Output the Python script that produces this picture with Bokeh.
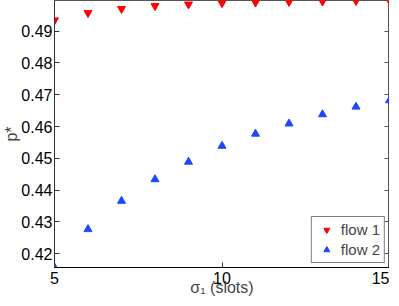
from bokeh.plotting import figure
from bokeh.models import Range1d, LinearAxis, FixedTicker, Legend, LegendItem
from bokeh.embed import file_html
from bokeh.resources import INLINE

slots = [5, 6, 7, 8, 9, 10, 11, 12, 13, 14, 15]
flow1 = [0.4934, 0.4957, 0.4970, 0.4979, 0.4984, 0.4988, 0.4990, 0.4992, 0.4993, 0.4995, 0.4996]
flow2 = [0.4157, 0.4277, 0.4366, 0.4434, 0.4489, 0.4539, 0.4577, 0.4609, 0.4638, 0.4662, 0.4682]
x_ticks = [5, 10, 15]
y_ticks = [0.42, 0.43, 0.44, 0.45, 0.46, 0.47, 0.48, 0.49]

FONT = "Liberation Sans"

p = figure(width=389, height=298, output_backend="svg", toolbar_location=None,
           x_range=Range1d(5, 15), y_range=Range1d(0.4157, 0.4996),
           min_border_left=0, min_border_right=0, min_border_top=0, min_border_bottom=0)
p.grid.visible = False
p.outline_line_color = "#555555"
p.background_fill_color = "white"

r1 = p.scatter(slots, flow1, marker="inverted_triangle", size=8, color="#ff0000")
r2 = p.scatter(slots, flow2, marker="triangle", size=8, color="#1f45ff")

for ax in (p.xaxis[0], p.yaxis[0]):
    ax.major_tick_in = 5
    ax.major_tick_out = 0
    ax.minor_tick_line_color = None
    ax.major_label_text_font = FONT
    ax.major_label_text_font_size = "16px"
    ax.major_label_text_color = "black"
    ax.axis_label_text_font = FONT
    ax.axis_label_text_font_size = "16px"
    ax.axis_label_text_font_style = "normal"
    ax.axis_line_color = "#333333"
    ax.major_tick_line_color = "#333333"

p.xaxis[0].ticker = FixedTicker(ticks=x_ticks)
p.yaxis[0].ticker = FixedTicker(ticks=y_ticks)
p.yaxis[0].formatter.use_scientific = False
p.xaxis[0].axis_label = "σ₁ (slots)"
p.xaxis[0].axis_label_standoff = -8
p.xaxis[0].major_label_standoff = 4
p.xaxis[0].axis_line_color = "black"
p.yaxis[0].axis_label = "p*"
p.yaxis[0].axis_label_standoff = -2
p.yaxis[0].major_label_standoff = 2

right = LinearAxis(ticker=FixedTicker(ticks=y_ticks), major_label_text_font_size="0px",
                   major_tick_in=5, major_tick_out=0, minor_tick_line_color=None,
                   major_label_standoff=0, axis_label_standoff=0,
                   major_label_overrides={t: "" for t in y_ticks},
                   axis_line_color="#555555", major_tick_line_color="#555555")
p.add_layout(right, "right")

legend = Legend(items=[LegendItem(label="flow 1", renderers=[r1]),
                       LegendItem(label="flow 2", renderers=[r2])],
                location="bottom_right", label_text_font=FONT, label_text_font_size="15px",
                border_line_color="black", border_line_width=1, background_fill_alpha=1,
                glyph_width=21, glyph_height=15, label_height=15, spacing=3,
                padding=4, margin=4, label_standoff=4)
p.add_layout(legend, "center")

open("out.html", "w").write(file_html(p, INLINE))
